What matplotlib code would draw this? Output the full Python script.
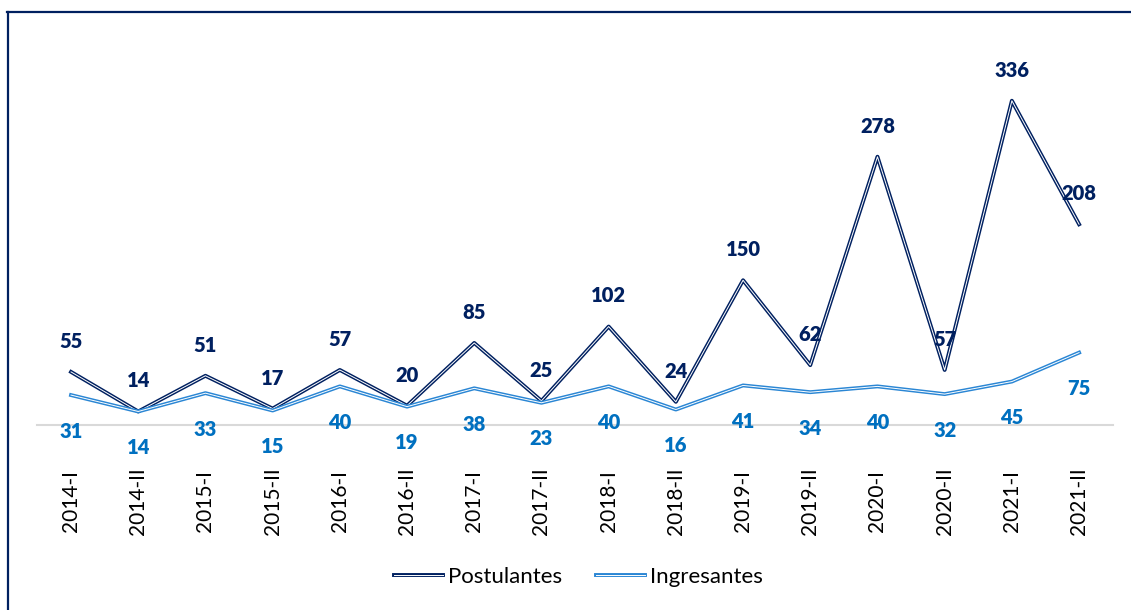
import matplotlib.pyplot as plt
import matplotlib.patheffects as pe
from matplotlib.lines import Line2D

# datos del gráfico
periodos = ["2014-I", "2014-II", "2015-I", "2015-II", "2016-I", "2016-II",
            "2017-I", "2017-II", "2018-I", "2018-II", "2019-I", "2019-II",
            "2020-I", "2020-II", "2021-I", "2021-II"]
postulantes = [55, 14, 51, 17, 57, 20, 85, 25, 102, 24, 150, 62, 278, 57, 336, 208]
ingresantes = [31, 14, 33, 15, 40, 19, 38, 23, 40, 16, 41, 34, 40, 32, 45, 75]

NAVY = "#002060"
BLUE = "#0070C0"
BLUE_LINE = "#2A86D4"

plt.rcParams["font.family"] = ["Lato", "DejaVu Sans"]

fig = plt.figure(figsize=(11.31, 6.10), dpi=100)
ax = fig.add_axes([0.0331, 0.3033, 0.9507, 0.6328])

x = list(range(len(periodos)))

# línea doble: trazo oscuro con centro blanco
ax.plot(x, postulantes, color="white", lw=0.7, label="Postulantes",
        path_effects=[pe.Stroke(linewidth=2.8, foreground=NAVY), pe.Normal()])
ax.plot(x, ingresantes, color="white", lw=0.7, label="Ingresantes",
        path_effects=[pe.Stroke(linewidth=2.8, foreground=BLUE_LINE), pe.Normal()])

for xi, v in zip(x, postulantes):
    ax.annotate(str(v), (xi, v), xytext=(0, 22), textcoords="offset points",
                ha="center", va="center", fontsize=14.5, fontweight="heavy",
                color=NAVY)
for xi, v in zip(x, ingresantes):
    ax.annotate(str(v), (xi, v), xytext=(0, -26), textcoords="offset points",
                ha="center", va="center", fontsize=14.5, fontweight="heavy",
                color=BLUE)

ax.set_xlim(-0.5, len(periodos) - 0.5)
ax.set_ylim(0, 400)
ax.set_xticks(x)
ax.set_xticklabels(periodos, rotation=90, ha="center", va="center",
                   fontsize=15, color="black")
ax.tick_params(axis="x", length=0, pad=55)
ax.set_yticks([])
for s in ["top", "right", "left"]:
    ax.spines[s].set_visible(False)
ax.spines["bottom"].set_color("#D9D9D9")
ax.spines["bottom"].set_linewidth(1.5)

leg = fig.legend(loc="center", bbox_to_anchor=(0.5115, 1 - 577 / 610), ncol=2,
                 frameon=False, fontsize=16, handlelength=2.2,
                 handletextpad=0.25, columnspacing=1.5)

# marco del gráfico
fig.add_artist(Line2D([7.5 / 1131, 7.5 / 1131], [0, 1 - 11.5 / 610],
                      transform=fig.transFigure, color=NAVY, lw=1.6))
fig.add_artist(Line2D([7 / 1131, 1], [1 - 11.5 / 610, 1 - 11.5 / 610],
                      transform=fig.transFigure, color=NAVY, lw=1.6))

fig.savefig("out.png", dpi=100)
